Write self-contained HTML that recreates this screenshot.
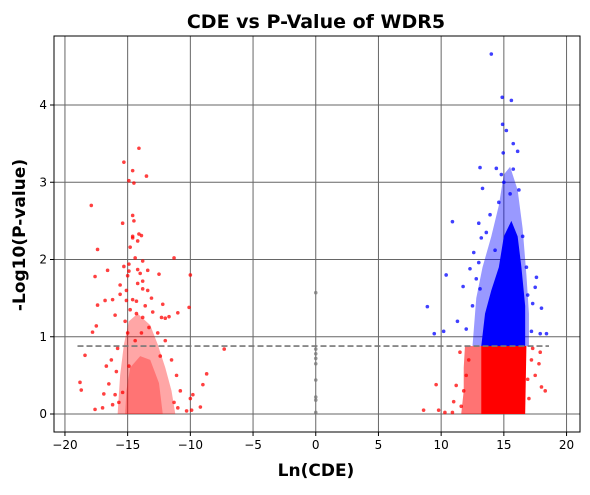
<!DOCTYPE html>
<html><head><meta charset="utf-8"><style>
body{margin:0;background:#fff;}
svg{font-family:"DejaVu Sans","Liberation Sans",sans-serif;}
</style></head><body>
<svg id="chart" width="590" height="490" viewBox="0 0 590 490" xmlns="http://www.w3.org/2000/svg">
<rect width="590" height="490" fill="#fff"/>
<g id="grid"></g>
<g id="marks"></g>
<g id="axes"></g>
<text x="316" y="28" text-anchor="middle" font-size="19" font-weight="bold">CDE vs P-Value of WDR5</text>
<text x="316" y="476" text-anchor="middle" font-size="17" font-weight="bold">Ln(CDE)</text>
<text transform="translate(25,235) rotate(-90)" text-anchor="middle" font-size="17" font-weight="bold">-Log10(P-value)</text>
</svg>
<script>
const xTicks=[-20,-15,-10,-5,0,5,10,15,20];
const yTicks=[0,1,2,3,4];
const threshold=0.88;
const leftRed=[[-14.1,3.44],[-15.3,3.26],[-14.6,3.15],[-14.9,3.02],[-13.5,3.08],[-14.5,2.99],[-17.9,2.70],[-15.4,2.47],[-14.6,2.57],[-14.5,2.50],[-14.6,2.30],[-14.6,2.28],[-14.1,2.33],[-13.9,2.31],[-14.2,2.24],[-14.8,2.16],[-17.4,2.13],[-14.4,2.02],[-13.8,1.98],[-11.3,2.02],[-16.6,1.86],[-15.3,1.91],[-14.9,1.94],[-14.2,1.87],[-14.0,1.82],[-14.9,1.85],[-13.4,1.86],[-15.0,1.79],[-12.5,1.81],[-10.0,1.80],[-17.6,1.78],[-15.6,1.67],[-14.2,1.69],[-13.8,1.72],[-15.1,1.60],[-13.8,1.62],[-13.4,1.60],[-16.2,1.48],[-17.4,1.41],[-16.8,1.47],[-15.6,1.55],[-15.1,1.47],[-14.6,1.48],[-14.3,1.46],[-13.1,1.50],[-12.3,1.25],[-12.0,1.24],[-11.7,1.26],[-10.1,1.38],[-11.0,1.31],[-17.8,1.06],[-17.5,1.14],[-16.0,1.28],[-15.2,1.20],[-14.3,1.30],[-13.8,1.25],[-13.0,1.32],[-7.3,0.84],[-8.7,0.52],[-9.0,0.38],[-18.4,0.76],[-18.8,0.41],[-18.7,0.31],[-17.6,0.06],[-16.7,0.62],[-16.5,0.39],[-17.0,0.08],[-16.9,0.26],[-10.0,0.20],[-9.8,0.25],[-9.2,0.09],[-10.3,0.04],[-9.9,0.05],[-15.7,0.15],[-16.0,0.25],[-15.4,0.28],[-14.9,0.62],[-12.6,1.05],[-13.3,1.12],[-12.0,0.95],[-11.5,0.70],[-11.1,0.50],[-10.8,0.30],[-15.8,0.85],[-16.3,0.70],[-12.2,1.42],[-13.6,1.40],[-14.8,1.35],[-15.9,0.55],[-16.2,0.12],[-11.3,0.15],[-11.0,0.08],[-12.4,0.75],[-13.9,1.05],[-14.4,0.95],[-15.0,1.05]];
const leftRedDense=[[-15.8,0],[-11.2,0],[-11.5,0.3],[-12.0,0.6],[-12.6,0.9],[-13.2,1.15],[-14.2,1.3],[-14.9,1.2],[-15.3,0.9],[-15.6,0.5]];
const leftRedCore=[[-15.2,0],[-12.2,0],[-12.5,0.4],[-13.2,0.7],[-14.0,0.75],[-14.8,0.6],[-15.1,0.3]];
const rightRed=[[8.6,0.05],[9.6,0.38],[9.8,0.05],[10.3,0.02],[11.5,0.8],[11.2,0.37],[11.0,0.16],[10.9,0.02],[17.5,0.5],[18.0,0.35],[17.9,0.8],[17.2,0.7],[18.3,0.3],[17.0,0.2],[17.8,0.65],[11.6,0.1],[12.0,0.5],[12.2,0.7],[11.8,0.3],[17.3,0.85],[16.9,0.45]];
const rightRedLight=[[11.6,0],[13.3,0],[13.3,0.88],[11.9,0.88],[11.8,0.6],[11.8,0.3]];
const rightRedDense=[[13.2,0],[16.7,0],[16.8,0.88],[13.2,0.88]];
const blue=[[14.0,4.66],[14.87,4.10],[15.6,4.06],[14.9,3.75],[15.2,3.67],[15.75,3.5],[16.1,3.4],[14.95,3.38],[13.1,3.19],[14.4,3.18],[15.75,3.17],[13.3,2.92],[10.9,2.49],[16.2,2.9],[10.4,1.8],[8.9,1.39],[9.45,1.04],[10.2,1.07],[11.3,1.2],[12.3,1.88],[11.75,1.65],[12.6,2.09],[17.6,1.77],[17.5,1.64],[17.3,1.43],[18.0,1.37],[18.4,1.04],[17.9,1.04],[17.2,1.07],[16.9,1.54],[13.0,2.47],[13.9,2.58],[14.6,2.74],[13.2,2.28],[14.3,2.12],[13.0,1.96],[13.1,1.62],[12.5,1.4],[12.0,1.1],[15.0,3.0],[15.5,2.85],[14.8,3.1],[16.5,2.3],[16.8,1.9],[12.8,1.75],[13.6,2.35]];
const blueLight=[[12.5,0.88],[17.0,0.88],[17.0,1.3],[16.8,1.8],[16.5,2.4],[16.1,2.9],[15.5,3.2],[15.0,3.1],[14.6,2.7],[14.0,2.3],[13.3,1.9],[12.8,1.5]];
const blueDense=[[13.2,0.88],[16.7,0.88],[16.7,1.4],[16.4,1.9],[16.1,2.3],[15.6,2.5],[15.0,2.3],[14.6,1.9],[14.0,1.6],[13.5,1.3]];
const grayPts=[[0,0.02],[0,0.18],[0,0.22],[0,0.44],[0,0.65],[0,0.72],[0,0.78],[0,0.84],[0,1.57]];

const L=54,R=580,T=36,B=432;
const X=v=>315.75+v*12.54;
const Y=v=>414-v*77.25;
const NS="http://www.w3.org/2000/svg";
function mk(tag,parent){const e=document.createElementNS(NS,tag);document.getElementById(parent).appendChild(e);return e;}
xTicks.forEach(t=>{
  const g=mk('line','grid');
  
  
  g.setAttribute('x1',X(t));g.setAttribute('x2',X(t));g.setAttribute('y1',T);g.setAttribute('y2',B);g.setAttribute('stroke','#666');g.setAttribute('stroke-width','1');
  const tk=mk('line','axes');
  
  
  tk.setAttribute('x1',X(t));tk.setAttribute('x2',X(t));tk.setAttribute('y1',B);tk.setAttribute('y2',B+4);tk.setAttribute('stroke','#000');
  const lb=mk('text','axes');
  
  
  lb.setAttribute('x',X(t));lb.setAttribute('y',B+17);lb.setAttribute('text-anchor','middle');lb.setAttribute('font-size','12');
  lb.textContent=t<0?'\u2212'+(-t):String(t);
});
yTicks.forEach(t=>{
  const g=mk('line','grid');
  
  
  g.setAttribute('x1',L);g.setAttribute('x2',R);g.setAttribute('y1',Y(t));g.setAttribute('y2',Y(t));g.setAttribute('stroke','#666');g.setAttribute('stroke-width','1');
  const tk=mk('line','axes');
  
  
  tk.setAttribute('x1',L-4);tk.setAttribute('x2',L);tk.setAttribute('y1',Y(t));tk.setAttribute('y2',Y(t));tk.setAttribute('stroke','#000');
  const lb=mk('text','axes');
  
  
  lb.setAttribute('x',L-7);lb.setAttribute('y',Y(t)+4);lb.setAttribute('text-anchor','end');lb.setAttribute('font-size','12');
  lb.textContent=String(t);
});
function poly(pts,color,op,name){
  const p=mk('polygon','marks');
  
  
  p.setAttribute('points',pts.map(d=>X(d[0])+','+Y(d[1])).join(' '));
  p.setAttribute('fill',color);p.setAttribute('fill-opacity',op);
}
function dots(pts,color,name){
  pts.forEach(d=>{
    const c=mk('circle','marks');
    
    
    c.setAttribute('cx',X(d[0]));c.setAttribute('cy',Y(d[1]));c.setAttribute('r','1.8');c.setAttribute('fill',color);c.setAttribute('fill-opacity','0.75');
  });
}
poly(leftRedDense,'#ff0000',0.35,'left-red-dense-region');
poly(leftRedCore,'#ff0000',0.3,'left-red-core-region');
poly(rightRedLight,'#ff0000',0.55,'right-red-light-region');
poly(rightRedDense,'#ff0000',1,'right-red-dense-region');
poly(blueLight,'#0000ff',0.4,'blue-light-region');
poly(blueDense,'#0000ff',1,'blue-dense-region');
dots(leftRed,'#ff0000','left-red-point');
dots(rightRed,'#ff0000','right-red-point');
dots(blue,'#0000ff','blue-point');
dots(grayPts,'#777777','zero-point');
const th=mk('line','marks');


th.setAttribute('x1',X(-19));th.setAttribute('x2',X(18.6));th.setAttribute('y1',Y(threshold));th.setAttribute('y2',Y(threshold));th.setAttribute('stroke','#777');th.setAttribute('stroke-width','1.6');th.setAttribute('stroke-dasharray','6,3');
const fr=mk('rect','axes');


fr.setAttribute('x',L);fr.setAttribute('y',T);fr.setAttribute('width',R-L);fr.setAttribute('height',B-T);fr.setAttribute('fill','none');fr.setAttribute('stroke','#000');fr.setAttribute('stroke-width','1');
</script>
</body></html>
